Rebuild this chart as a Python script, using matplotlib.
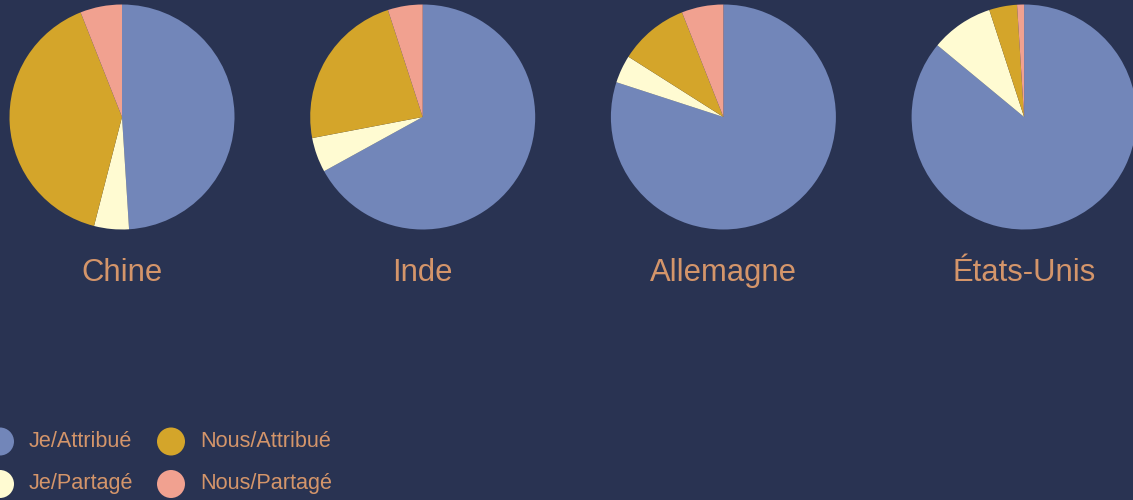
import matplotlib.pyplot as plt
from matplotlib.patches import Circle

# share of answers per country, clockwise from 12 o'clock
countries = ['Chine', 'Inde', 'Allemagne', 'États-Unis']
series = ['Je/Attribué', 'Je/Partagé', 'Nous/Attribué', 'Nous/Partagé']
je_attribue = [49, 67, 80, 86]
je_partage = [5, 5, 4, 9]
nous_attribue = [40, 23, 10, 4]
nous_partage = [6, 5, 6, 1]

colors = ['#7286b9', '#fffbd2', '#d4a52a', '#f1a190']
bg = '#293352'
txt = '#d4956a'

W, H = 1133, 500


def main():
    fig = plt.figure(figsize=(W / 100, H / 100), dpi=100, facecolor=bg)
    ax = fig.add_axes([0, 0, 1, 1])
    ax.set_facecolor(bg)
    ax.set_xlim(0, W)
    ax.set_ylim(0, H)
    ax.set_aspect('equal')
    ax.axis('off')

    for i, name in enumerate(countries):
        cx = 122 + i * 300.7
        vals = [je_attribue[i], je_partage[i], nous_attribue[i], nous_partage[i]]
        ax.pie(vals, colors=colors, startangle=90, counterclock=False,
               center=(cx, H - 117), radius=112.5, frame=True,
               wedgeprops=dict(linewidth=0))
        ax.text(cx, H - 273, name, ha='center', va='center', color=txt,
                fontsize=22.3, family='Liberation Sans')

    # legend as two columns of dots + labels
    for j, lab in enumerate(series):
        col, row = j // 2, j % 2
        x = col * 171
        y = H - (441.5 + row * 42.5)
        ax.add_patch(Circle((x, y), 14, color=colors[j], lw=0))
        ax.text(x + 29, y, lab, ha='left', va='center', color=txt,
                fontsize=15.6, family='Liberation Sans')

    ax.set_xlim(0, W)
    ax.set_ylim(0, H)
    fig.savefig('out.png', dpi=100, facecolor=bg)


if __name__ == "__main__":
    main()
